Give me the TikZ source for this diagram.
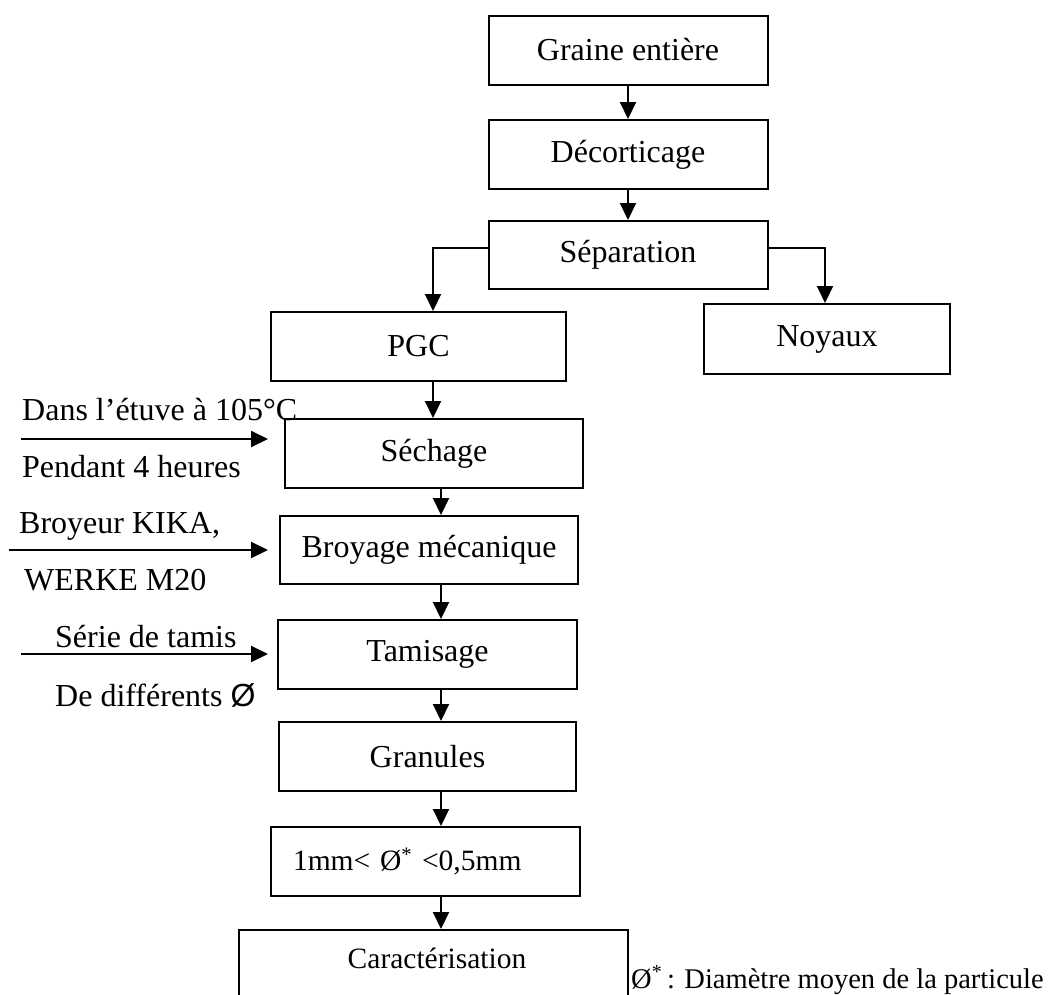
\documentclass[tikz,border=0pt]{standalone}
\usepackage{fontspec}
\setmainfont{Liberation Serif}
\newfontfamily\arialfont{Liberation Sans}
\usetikzlibrary{arrows.meta}
\tikzset{
  box/.style={draw, line width=2pt, rectangle, inner sep=0pt, minimum height=69pt, font=\fontsize{32}{36}\selectfont},
  arr/.style={line width=2pt, -{Triangle[width=16pt,length=17pt]}},
  lbl/.style={inner sep=0pt, anchor=base west, font=\fontsize{32}{36}\selectfont},
  smalllbl/.style={inner sep=0pt, font=\fontsize{29.5}{34}\selectfont}
}
\begin{document}
\begin{tikzpicture}[x=1pt,y=-1pt]
\clip (0,0) rectangle (1054,994);
\fill[white] (0,0) rectangle (1054,994);
% boxes
\node[box, minimum width=279pt] (graine) at (628,50) {Graine entière};
\node[box, minimum width=279pt] (deco) at (628,154.5) {Décorticage};
\node[box, minimum width=279pt, minimum height=68pt] (sep) at (628,255) {Séparation};
\node[box, minimum width=295pt] (pgc) at (418.5,346.5) {PGC};
\node[box, minimum width=246pt, minimum height=70pt] (noy) at (827,339) {Noyaux};
\node[box, minimum width=298pt] (sech) at (434,453.5) {Séchage};
\node[box, minimum width=298pt, minimum height=68pt] (broy) at (429,550) {Broyage mécanique};
\node[box, minimum width=299pt] (tam) at (427.5,654.5) {Tamisage};
\node[box, minimum width=297pt] (gran) at (427.5,756.5) {Granules};
\node[box, font=\fontsize{29.5}{34}\selectfont, inner xsep=22pt, text width=265pt, align=left] (mm) at (425.5,861.5) {1mm< Ø\textsuperscript{*} <0,5mm};
\node[box, minimum width=389pt, minimum height=120pt, anchor=north] (cara) at (433.5,929) {};
\node[smalllbl] (caratxt) at (437,958) {Caractérisation};
% column coordinates
\coordinate (colA) at (433,0);
\coordinate (colB) at (441,0);
% main connectors
\draw[arr] (graine.south) -- (deco.north);
\draw[arr] (deco.south) -- (sep.north);
\draw[arr] ([yshift=7pt]sep.west) -| (pgc.north -| colA);
\draw[arr] ([yshift=7pt]sep.east) -| ([xshift=-2pt]noy.north);
\draw[arr] (pgc.south -| colA) -- (sech.north -| colA);
\draw[arr] (sech.south -| colB) -- (broy.north -| colB);
\draw[arr] (broy.south -| colB) -- (tam.north -| colB);
\draw[arr] (tam.south -| colB) -- (gran.north -| colB);
\draw[arr] (gran.south -| colB) -- (mm.north -| colB);
\draw[arr] (mm.south -| colB) -- (cara.north -| colB);
% side inputs
\coordinate (s1) at (21,439);
\coordinate (e1) at (268,439);
\coordinate (s2) at (9,550);
\coordinate (e2) at (268,550);
\coordinate (s3) at (21,654);
\coordinate (e3) at (268,654);
\draw[arr] (s1) -- (e1);
\draw[arr] (s2) -- (e2);
\draw[arr] (s3) -- (e3);
\node[lbl] (t1) at (22,420) {Dans l’étuve à 105°C};
\node[lbl] (t2) at (22,477) {Pendant 4 heures};
\node[lbl] (t3) at (19,533) {Broyeur KIKA,};
\node[lbl] (t4) at (24,590) {WERKE M20};
\node[lbl] (t5) at (55,647) {Série de tamis};
\node[lbl] (t6) at (55,706) {De différents {\arialfont Ø}};
% note
\node[inner sep=0pt, anchor=base west, font=\fontsize{28.5}{32}\selectfont] (note) at (631,988) {Ø\textsuperscript{*}\,: Diamètre moyen de la particule};
\end{tikzpicture}
\end{document}
